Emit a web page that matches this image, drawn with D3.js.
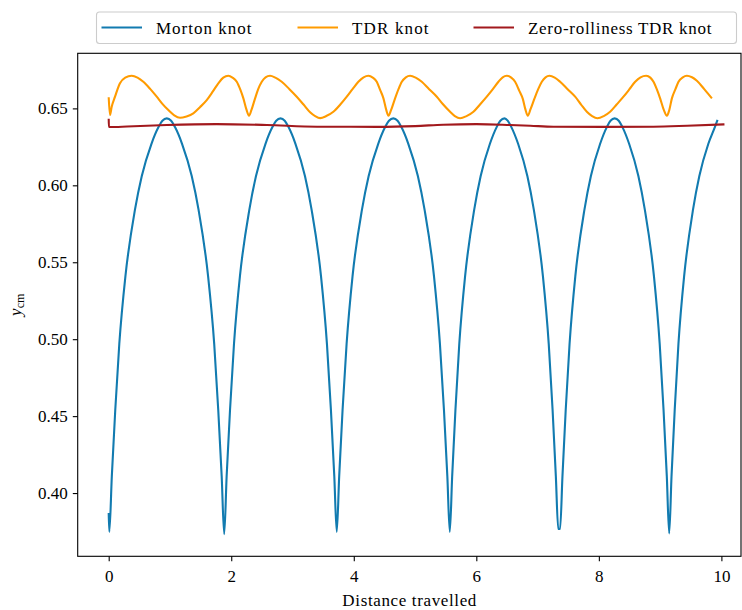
<!DOCTYPE html>
<html>
<head>
<meta charset="utf-8">
<script src="https://cdn.jsdelivr.net/npm/d3@7/dist/d3.min.js"></script>
<style>
  html, body { margin: 0; padding: 0; background: #fff; }
  svg { display: block; }
</style>
</head>
<body>
<svg id="chart" width="742" height="610"></svg>
<script>
// ---------------- data ----------------
const seriesNames = ["Morton knot", "TDR knot", "Zero-rolliness TDR knot"];
const seriesColors = ["#127bb0", "#ff9b00", "#a2191d"];

const xTicks = [0, 2, 4, 6, 8, 10];
const yTicks = [0.40, 0.45, 0.50, 0.55, 0.60, 0.65];

const mortonX = [
  0.000, 0.010, 0.051, 0.107, 0.173, 0.273, 0.428, 0.540, 0.698, 0.815, 0.876, 0.948,
  1.019, 1.080, 1.197, 1.355, 1.467, 1.622, 1.722, 1.788, 1.844, 1.885,
  1.925, 1.980, 2.045, 2.142, 2.295, 2.404, 2.559, 2.674, 2.734, 2.804,
  2.873, 2.933, 3.048, 3.203, 3.312, 3.465, 3.562, 3.627, 3.682, 3.722,
  3.762, 3.817, 3.883, 3.980, 4.133, 4.243, 4.399, 4.514, 4.574, 4.645,
  4.715, 4.775, 4.890, 5.046, 5.156, 5.309, 5.406, 5.472, 5.527, 5.567,
  5.606, 5.659, 5.722, 5.817, 5.965, 6.071, 6.222, 6.334, 6.392, 6.460,
  6.512, 6.570, 6.682, 6.833, 6.939, 7.087, 7.182, 7.245, 7.298, 7.337, 7.367,
  7.406, 7.459, 7.522, 7.616, 7.764, 7.870, 8.021, 8.132, 8.190, 8.258,
  8.325, 8.383, 8.494, 8.645, 8.751, 8.899, 8.993, 9.056, 9.109, 9.148,
  9.186, 9.238, 9.299, 9.392, 9.536, 9.640, 9.787, 9.895, 9.937
];
const mortonY = [
  0.3870, 0.3748, 0.411, 0.454, 0.497, 0.541, 0.584, 0.606, 0.627, 0.638, 0.642, 0.6435,
  0.642, 0.638, 0.627, 0.606, 0.584, 0.541, 0.497, 0.454, 0.411, 0.3733,
  0.411, 0.454, 0.497, 0.541, 0.584, 0.606, 0.627, 0.638, 0.642, 0.6435,
  0.642, 0.638, 0.627, 0.606, 0.584, 0.541, 0.497, 0.454, 0.411, 0.3748,
  0.411, 0.454, 0.497, 0.541, 0.584, 0.606, 0.627, 0.638, 0.642, 0.6435,
  0.642, 0.638, 0.627, 0.606, 0.584, 0.541, 0.497, 0.454, 0.411, 0.3748,
  0.411, 0.454, 0.497, 0.541, 0.584, 0.606, 0.627, 0.638, 0.642, 0.6435,
  0.642, 0.638, 0.627, 0.606, 0.584, 0.541, 0.497, 0.454, 0.411, 0.3766, 0.3766,
  0.411, 0.454, 0.497, 0.541, 0.584, 0.606, 0.627, 0.638, 0.642, 0.6435,
  0.642, 0.638, 0.627, 0.606, 0.584, 0.541, 0.497, 0.454, 0.411, 0.3738,
  0.411, 0.454, 0.497, 0.541, 0.584, 0.606, 0.627, 0.638, 0.6425
];

const tdrX = [
  0.000, 0.021, 0.049, 0.103, 0.184, 0.270, 0.375, 0.470, 0.565, 0.680, 0.784, 0.880, 0.973, 1.070,
  1.164, 1.270, 1.381, 1.490, 1.600, 1.700, 1.789, 1.870, 1.953, 2.020, 2.090, 2.150, 2.198, 2.250,
  2.290, 2.330, 2.389, 2.440, 2.498, 2.560, 2.633, 2.720, 2.824, 2.950, 3.069, 3.180, 3.287, 3.370,
  3.450, 3.550, 3.667, 3.780, 3.886, 3.980, 4.075, 4.160, 4.239, 4.310, 4.375, 4.430, 4.484, 4.530,
  4.565, 4.610, 4.674, 4.730, 4.784, 4.850, 4.919, 5.010, 5.110, 5.230, 5.355, 5.460, 5.572, 5.650,
  5.735, 5.840, 5.953, 6.060, 6.171, 6.270, 6.361, 6.430, 6.498, 6.570, 6.633, 6.700, 6.760, 6.800,
  6.840, 6.885, 6.950, 7.010, 7.069, 7.130, 7.194, 7.280, 7.368, 7.490, 7.613, 7.710, 7.804, 7.890,
  7.977, 8.080, 8.184, 8.290, 8.402, 8.500, 8.593, 8.680, 8.772, 8.840, 8.892, 8.950, 9.000, 9.060,
  9.110, 9.150, 9.192, 9.250, 9.300, 9.370, 9.437, 9.520, 9.600, 9.720, 9.845
];
const tdrY = [
  0.6572, 0.6457, 0.6511, 0.6576, 0.6663, 0.6700, 0.6712, 0.6700, 0.6673, 0.6625, 0.6576, 0.6528, 0.6489, 0.6455,
  0.6439, 0.6448, 0.6468, 0.6508, 0.6554, 0.6610, 0.6663, 0.6700, 0.6712, 0.6700, 0.6673, 0.6620, 0.6565, 0.6490,
  0.6452, 0.6490, 0.6565, 0.6625, 0.6673, 0.6702, 0.6712, 0.6700, 0.6673, 0.6625, 0.6576, 0.6525, 0.6475, 0.6450,
  0.6437, 0.6450, 0.6478, 0.6525, 0.6576, 0.6625, 0.6673, 0.6702, 0.6712, 0.6700, 0.6673, 0.6620, 0.6565, 0.6490,
  0.6452, 0.6490, 0.6565, 0.6625, 0.6673, 0.6702, 0.6712, 0.6700, 0.6673, 0.6625, 0.6576, 0.6525, 0.6478, 0.6450,
  0.6436, 0.6450, 0.6478, 0.6525, 0.6576, 0.6625, 0.6673, 0.6702, 0.6712, 0.6700, 0.6673, 0.6615, 0.6560, 0.6495,
  0.6452, 0.6495, 0.6565, 0.6625, 0.6673, 0.6702, 0.6712, 0.6700, 0.6673, 0.6625, 0.6576, 0.6525, 0.6478, 0.6450,
  0.6436, 0.6450, 0.6478, 0.6525, 0.6576, 0.6625, 0.6673, 0.6702, 0.6712, 0.6700, 0.6673, 0.6620, 0.6565, 0.6490,
  0.6452, 0.6490, 0.6565, 0.6625, 0.6673, 0.6702, 0.6712, 0.6702, 0.6680, 0.6625, 0.6565
];

const zeroX = [0.000, 0.003, 0.300, 0.947, 1.760, 2.580, 3.400, 4.375, 5.000, 5.460, 6.000, 6.550, 6.880, 7.260, 8.070, 8.890, 9.440, 10.050];
const zeroY = [0.6432, 0.6379, 0.6382, 0.6392, 0.6398, 0.6392, 0.6381, 0.6380, 0.6385, 0.6394, 0.6398, 0.6392, 0.6387, 0.6381, 0.6380, 0.6381, 0.6387, 0.6396];

// ---------------- layout ----------------
const FONT = 'Tinos, "Times New Roman", serif';
const svg = d3.select("#chart");
const plot = { left: 77.7, right: 741, top: 53.3, bottom: 556.3 };

const x = d3.scaleLinear().domain([-0.506, 10.32]).range([plot.left, plot.right]);
const y = d3.scaleLinear().domain([0.3589, 0.6858]).range([plot.bottom, plot.top]);

const clipId = "plotclip";
svg.append("defs").append("clipPath").attr("id", clipId)
  .append("rect").attr("x", plot.left).attr("y", plot.top)
  .attr("width", plot.right - plot.left).attr("height", plot.bottom - plot.top);

// series lines
const series = [
  { xs: mortonX, ys: mortonY },
  { xs: tdrX, ys: tdrY },
  { xs: zeroX, ys: zeroY }
];
const line = d3.line().x(d => x(d[0])).y(d => y(d[1])).curve(d3.curveMonotoneX);
const g = svg.append("g").attr("clip-path", `url(#${clipId})`);
series.forEach((s, i) => {
  const pts = s.xs.map((v, k) => [v, s.ys[k]]);
  g.append("path").attr("d", line(pts))
    .attr("fill", "none").attr("stroke", seriesColors[i])
    .attr("stroke-width", 2.1).attr("stroke-linejoin", "round").attr("stroke-linecap", "butt");
});

// axes
const xAxis = d3.axisBottom(x).tickValues(xTicks).tickFormat(d3.format("d")).tickSize(4.9).tickPadding(5);
const yAxis = d3.axisLeft(y).tickValues(yTicks).tickFormat(d3.format(".2f")).tickSize(4.9).tickPadding(5);

const gx = svg.append("g").attr("transform", `translate(0,${plot.bottom})`).call(xAxis);
const gy = svg.append("g").attr("transform", `translate(${plot.left},0)`).call(yAxis);
[gx, gy].forEach(a => {
  a.attr("font-family", FONT).attr("font-size", 17);
  a.select(".domain").remove();
  a.selectAll(".tick line").attr("stroke", "#000").attr("stroke-width", 1.1);
  a.selectAll(".tick text").attr("font-family", FONT).attr("font-size", 17).attr("fill", "#000");
});
gx.selectAll(".tick text").attr("dy", "0.95em");

// frame
svg.append("rect").attr("x", plot.left).attr("y", plot.top)
  .attr("width", plot.right - plot.left).attr("height", plot.bottom - plot.top)
  .attr("fill", "none").attr("stroke", "#000").attr("stroke-width", 1.1);

// axis labels
svg.append("text").attr("x", (plot.left + plot.right) / 2).attr("y", 606)
  .attr("font-family", FONT)
  .attr("text-anchor", "middle").attr("font-size", 17)
  .attr("textLength", 134).attr("lengthAdjust", "spacing")
  .text("Distance travelled");

const yl = svg.append("text").attr("transform", `translate(21,${(plot.top + plot.bottom) / 2}) rotate(-90)`)
  .attr("font-family", FONT)
  .attr("text-anchor", "middle").attr("font-size", 17);
yl.append("tspan").attr("font-style", "italic").text("y");
yl.append("tspan").attr("font-size", 12).attr("dy", 3).text("cm");

// legend
const legend = svg.append("g");
legend.append("rect").attr("x", 96.5).attr("y", 12).attr("width", 640).attr("height", 31.5)
  .attr("rx", 3).attr("fill", "#fff").attr("fill-opacity", 0.8)
  .attr("stroke", "#cccccc").attr("stroke-width", 1.1);
const legX = [101.5, 297.5, 473.5];
const legTextLen = [95.4, 76.6, 183.4];
seriesNames.forEach((name, i) => {
  legend.append("line").attr("x1", legX[i]).attr("x2", legX[i] + 40.5)
    .attr("y1", 27.5).attr("y2", 27.5)
    .attr("stroke", seriesColors[i]).attr("stroke-width", 2.1);
  legend.append("text").attr("x", legX[i] + 54.5).attr("y", 33.5)
    .attr("font-family", FONT)
    .attr("font-size", 17).attr("textLength", legTextLen[i]).attr("lengthAdjust", "spacing")
    .text(name);
});
</script>
</body>
</html>
